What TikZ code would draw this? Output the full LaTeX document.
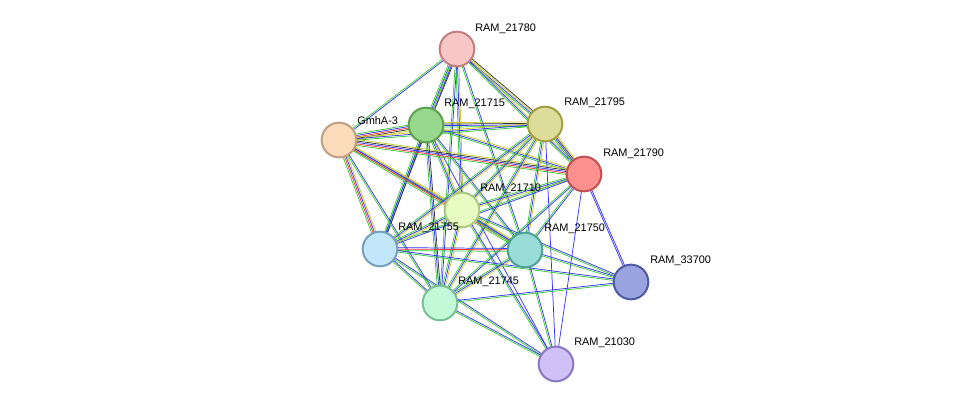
\documentclass[tikz,border=0pt]{standalone}
\usepackage{fontspec}
\setmainfont{Liberation Sans}
\usetikzlibrary{calc}
\pgfdeclarelayer{bg}
\pgfsetlayers{bg,main}
\definecolor{eG}{HTML}{33CC33}
\definecolor{eB}{HTML}{3333FF}
\definecolor{eY}{HTML}{C8C820}
\definecolor{eR}{HTML}{FF3333}
\definecolor{eK}{HTML}{333333}
\newcommand\edg[3]{%
  \foreach \c [count=\i] in {#3} {%
    \pgfmathsetmacro\off{(\i-(#3count+1)/2)}%
  }%
}
\newcommand\bund[4]{% from, to, n, colours
  \begin{pgfonlayer}{bg}
  \foreach \c [count=\i] in {#4} {%
    \pgfmathsetmacro\off{(\i-(#3+1)/2)*1.1}
    \draw[\c, line width=0.55pt] ($(#1)!\off pt!90:(#2)$) -- ($(#2)!\off pt!-90:(#1)$);
  }
  \end{pgfonlayer}}
\tikzset{
  prot/.style={circle, minimum size=26pt, inner sep=0pt, line width=1.5pt},
  lab/.style={font=\fontsize{8.2pt}{9pt}\selectfont, inner sep=0pt, anchor=south west}
}
\begin{document}
\begin{tikzpicture}[x=0.75pt,y=-0.75pt]
\useasboundingbox (0,0) rectangle (975,410);
\node[prot, fill={rgb,255:red,247;green,198;blue,198}, draw={rgb,255:red,192;green,128;blue,128}] (a) at (457,49) {};
\node[prot, fill={rgb,255:red,152;green,216;blue,142}, draw={rgb,255:red,93;green,160;blue,80}] (b) at (426,125) {};
\node[prot, fill={rgb,255:red,222;green,220;blue,154}, draw={rgb,255:red,160;green,160;blue,64}] (c) at (545,124) {};
\node[prot, fill={rgb,255:red,253;green,220;blue,188}, draw={rgb,255:red,192;green,160;blue,128}] (d) at (339,140) {};
\node[prot, fill={rgb,255:red,255;green,144;blue,144}, draw={rgb,255:red,192;green,80;blue,80}] (e) at (584,174) {};
\node[prot, fill={rgb,255:red,230;green,252;blue,192}, draw={rgb,255:red,170;green,200;blue,130}] (f) at (462,210) {};
\node[prot, fill={rgb,255:red,194;green,230;blue,250}, draw={rgb,255:red,120;green,160;blue,190}] (g) at (380,249) {};
\node[prot, fill={rgb,255:red,153;green,221;blue,216}, draw={rgb,255:red,80;green,160;blue,150}] (h) at (525,250) {};
\node[prot, fill={rgb,255:red,153;green,163;blue,224}, draw={rgb,255:red,80;green,90;blue,160}] (i) at (631,282) {};
\node[prot, fill={rgb,255:red,194;green,250;blue,216}, draw={rgb,255:red,120;green,190;blue,150}] (j) at (440,303) {};
\node[prot, fill={rgb,255:red,208;green,192;blue,248}, draw={rgb,255:red,140;green,120;blue,190}] (k) at (556,364) {};
\node[lab] at (475,34) {RAM\_21780};
\node[lab] at (444,109) {RAM\_21715};
\node[lab] at (564,108) {RAM\_21795};
\node[lab] at (357,125) {GmhA-3};
\node[lab] at (603,159) {RAM\_21790};
\node[lab] at (480,194) {RAM\_21710};
\node[lab] at (398,233) {RAM\_21755};
\node[lab] at (544,234) {RAM\_21750};
\node[lab] at (650,266) {RAM\_33700};
\node[lab] at (458,287) {RAM\_21745};
\node[lab] at (574,348) {RAM\_21030};
\bund{a}{b}{4}{eG,eB,eY,eK}
\bund{a}{c}{4}{eG,eB,eY,eK}
\bund{a}{d}{2}{eG,eB}
\bund{a}{e}{3}{eG,eB,eY}
\bund{a}{f}{3}{eG,eB,eY}
\bund{a}{g}{2}{eG,eB}
\bund{a}{h}{2}{eG,eB}
\bund{a}{j}{2}{eG,eB}
\bund{b}{c}{4}{eG,eB,eK,eY}
\bund{b}{d}{5}{eG,eB,eR,eK,eY}
\bund{b}{e}{3}{eG,eB,eY}
\bund{b}{f}{3}{eG,eB,eY}
\bund{b}{g}{3}{eG,eB,eK}
\bund{b}{h}{2}{eG,eB}
\bund{b}{j}{3}{eG,eB,eK}
\bund{b}{k}{1}{eB}
\bund{d}{c}{3}{eG,eB,eY}
\bund{d}{e}{5}{eG,eR,eB,eK,eY}
\bund{d}{f}{3}{eG,eB,eY}
\bund{d}{g}{4}{eG,eR,eB,eY}
\bund{d}{h}{4}{eG,eR,eB,eY}
\bund{d}{j}{2}{eG,eB}
\bund{c}{e}{4}{eG,eB,eK,eY}
\bund{c}{f}{3}{eG,eB,eY}
\bund{c}{g}{3}{eG,eB,eY}
\bund{c}{h}{3}{eG,eB,eY}
\bund{c}{j}{3}{eG,eB,eY}
\bund{c}{k}{1}{eB}
\bund{e}{f}{3}{eG,eB,eY}
\bund{e}{g}{2}{eG,eB}
\bund{e}{h}{2}{eG,eB}
\bund{e}{j}{2}{eG,eB}
\bund{e}{i}{2}{eB,eB}
\bund{e}{k}{1}{eB}
\bund{f}{g}{3}{eG,eB,eY}
\bund{f}{h}{3}{eG,eB,eY}
\bund{f}{j}{3}{eG,eB,eY}
\bund{f}{i}{2}{eG,eB}
\bund{f}{k}{2}{eG,eB}
\bund{g}{h}{3}{eG,eR,eB}
\bund{g}{j}{2}{eG,eB}
\bund{g}{i}{2}{eG,eB}
\bund{g}{k}{2}{eG,eB}
\bund{h}{j}{3}{eG,eB,eY}
\bund{h}{i}{2}{eG,eB}
\bund{h}{k}{2}{eG,eB}
\bund{j}{i}{2}{eG,eB}
\bund{j}{k}{2}{eG,eB}
\end{tikzpicture}
\end{document}
